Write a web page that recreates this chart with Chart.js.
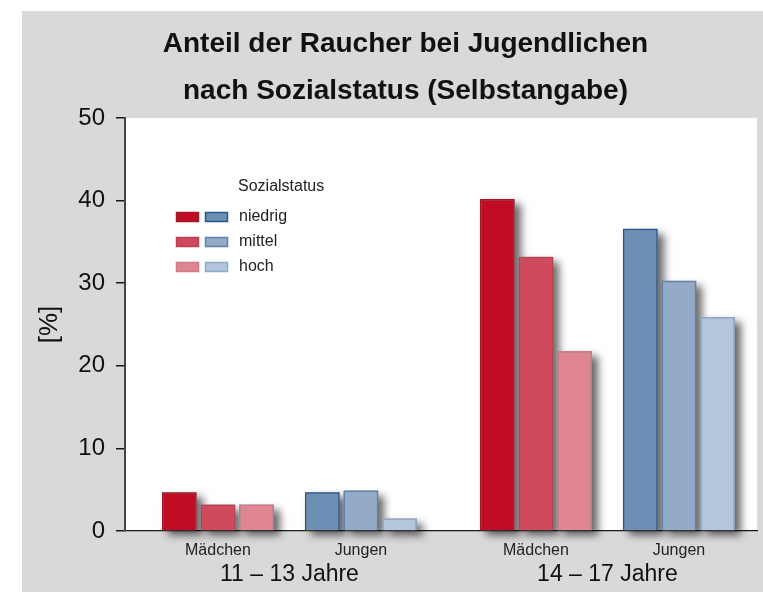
<!DOCTYPE html>
<html lang="de">
<head>
<meta charset="utf-8">
<title>Anteil der Raucher bei Jugendlichen</title>
<script src="https://cdn.jsdelivr.net/npm/chart.js@4.4.1/dist/chart.umd.min.js"></script>
<style>
  html, body { margin: 0; padding: 0; background: #fff; }
  #wrap { width: 763px; height: 592px; }
</style>
</head>
<body>
<div id="wrap"><canvas id="chart" width="763" height="592"></canvas></div>
<script>
// data
const titleLines = ['Anteil der Raucher bei Jugendlichen', 'nach Sozialstatus (Selbstangabe)'];
const groups = ['Mädchen', 'Jungen', 'Mädchen', 'Jungen'];
const ageGroups = ['11 – 13 Jahre', '14 – 17 Jahre'];
const legendTitle = 'Sozialstatus';
const statusLabels = ['niedrig', 'mittel', 'hoch'];
const niedrig = [4.7, 4.7, 40.2, 36.6];
const mittel = [3.2, 4.9, 33.2, 30.3];
const hoch = [3.2, 1.5, 21.8, 25.9];
const yTicks = [0, 10, 20, 30, 40, 50];
const yTitle = '[%]';

const SANS = "'Liberation Sans', Arial, sans-serif";
const girlFill = ['#c10c26', '#cf4a5c', '#e08592'];
const girlLine = ['#9e1a2a', '#b9404f', '#d27a88'];
const boyFill = ['#6e8fb5', '#93abc8', '#b4c6dc'];
const boyLine = ['#27588b', '#5d84ad', '#8eabc9'];

// extra space between the two age groups (in group units)
const AGE_GAP = 0.224;
const groupPos = groups.map((g, i) => i + Math.floor(i / 2) * AGE_GAP);
const agePos = ageGroups.map((a, k) => (groupPos[2 * k] + groupPos[2 * k + 1]) / 2);

const datasets = [niedrig, mittel, hoch].map((vals, s) => ({
    label: statusLabels[s],
    data: vals.map((v, i) => ({ x: groupPos[i], y: v })),
    backgroundColor: groups.map((g, i) => i % 2 === 0 ? girlFill[s] : boyFill[s]),
    borderColor: groups.map((g, i) => i % 2 === 0 ? girlLine[s] : boyLine[s]),
    borderWidth: 1.5,
    categoryPercentage: 0.81,
    barPercentage: 0.9,
    clip: false
}));

const backgroundPlugin = {
    id: 'panel',
    beforeDraw(chart) {
        const { ctx, chartArea } = chart;
        ctx.save();
        ctx.fillStyle = '#ffffff';
        ctx.fillRect(0, 0, chart.width, chart.height);
        ctx.fillStyle = '#d9d9d9';
        ctx.fillRect(22, 11, chart.width - 22, chart.height - 11);
        ctx.fillStyle = '#ffffff';
        ctx.fillRect(chartArea.left, chartArea.top, chartArea.right - chartArea.left, chartArea.bottom - chartArea.top);
        ctx.restore();
    }
};

// soft drop shadow behind every bar (bars clip their own shadow, so paint it first)
const shadowPlugin = {
    id: 'barShadow',
    beforeDatasetsDraw(chart) {
        const ctx = chart.ctx;
        ctx.save();
        ctx.shadowColor = 'rgba(0, 0, 0, 0.6)';
        ctx.shadowBlur = 8;
        ctx.shadowOffsetX = 6;
        ctx.shadowOffsetY = 5;
        ctx.fillStyle = '#888';
        chart.getSortedVisibleDatasetMetas().forEach(meta => {
            meta.data.forEach(bar => {
                const p = bar.getProps(['x', 'y', 'base', 'width'], true);
                ctx.fillRect(p.x - p.width / 2, Math.min(p.y, p.base), p.width, Math.abs(p.base - p.y));
            });
        });
        ctx.restore();
    }
};

// legend with a red and a blue swatch per row
const legendPlugin = {
    id: 'statusLegend',
    afterDraw(chart) {
        const ctx = chart.ctx;
        ctx.save();
        ctx.font = '16px ' + SANS;
        ctx.fillStyle = '#222';
        ctx.textBaseline = 'middle';
        ctx.fillText(legendTitle, 238, 187);
        chart.data.datasets.forEach((ds, s) => {
            const y = 217 + s * 25;
            ctx.lineWidth = 1.5;
            ctx.fillStyle = ds.backgroundColor[0];
            ctx.strokeStyle = ds.borderColor[0];
            ctx.fillRect(176, y - 5, 23, 10);
            ctx.strokeRect(176.5, y - 4.5, 22, 9);
            ctx.fillStyle = ds.backgroundColor[1];
            ctx.strokeStyle = ds.borderColor[1];
            ctx.fillRect(205, y - 5, 23, 10);
            ctx.strokeRect(205.5, y - 4.5, 22, 9);
            ctx.fillStyle = '#222';
            ctx.fillText(ds.label, 239, y);
        });
        ctx.restore();
    }
};

const ctx = document.getElementById('chart').getContext('2d');
new Chart(ctx, {
    type: 'bar',
    data: { datasets: datasets },
    options: {
        responsive: false,
        devicePixelRatio: 1,
        animation: false,
        layout: { padding: { left: 54, right: 6, top: 0, bottom: 0 } },
        plugins: {
            legend: { display: false },
            tooltip: { enabled: false },
            title: {
                display: true,
                text: titleLines,
                color: '#111',
                font: { family: SANS, size: 28, weight: 'bold', lineHeight: 1.68 },
                padding: { top: 21, bottom: 3 }
            }
        },
        scales: {
            x: {
                type: 'linear',
                position: 'bottom',
                weight: 0,
                z: 1,
                min: -0.65,
                max: 3.77,
                offset: false,
                grid: { display: false, drawTicks: false },
                border: { display: true, color: '#1a1a1a', width: 1.2 },
                afterBuildTicks: (scale) => { scale.ticks = groupPos.map(v => ({ value: v })); },
                afterFit: (scale) => { scale.height = 29; },
                ticks: {
                    autoSkip: false,
                    maxRotation: 0,
                    minRotation: 0,
                    padding: 10,
                    color: '#222',
                    font: { family: SANS, size: 16 },
                    callback: (value, index) => groups[index]
                }
            },
            x2: {
                type: 'linear',
                axis: 'x',
                position: 'bottom',
                weight: 1,
                min: -0.65,
                max: 3.77,
                offset: false,
                grid: { display: false, drawTicks: false },
                border: { display: false },
                afterBuildTicks: (scale) => { scale.ticks = agePos.map(v => ({ value: v })); },
                afterFit: (scale) => { scale.height = 32; },
                ticks: {
                    autoSkip: false,
                    maxRotation: 0,
                    minRotation: 0,
                    padding: 1,
                    color: '#111',
                    font: { family: SANS, size: 23 },
                    callback: (value, index) => ageGroups[index]
                }
            },
            y: {
                type: 'linear',
                min: 0,
                max: 50,
                afterBuildTicks: (scale) => { scale.ticks = yTicks.map(v => ({ value: v })); },
                afterFit: (scale) => { scale.width = 71; },
                grid: { display: true, drawOnChartArea: false, drawTicks: true, tickLength: 9, color: '#1a1a1a', lineWidth: 1.5 },
                border: { display: true, color: '#444', width: 2 },
                ticks: {
                    padding: 11,
                    color: '#111',
                    font: { family: SANS, size: 24 }
                },
                title: {
                    display: true,
                    text: yTitle,
                    color: '#111',
                    font: { family: SANS, size: 26 },
                    padding: { top: -20, bottom: 0 }
                }
            }
        }
    },
    plugins: [backgroundPlugin, shadowPlugin, legendPlugin]
});
</script>
</body>
</html>
